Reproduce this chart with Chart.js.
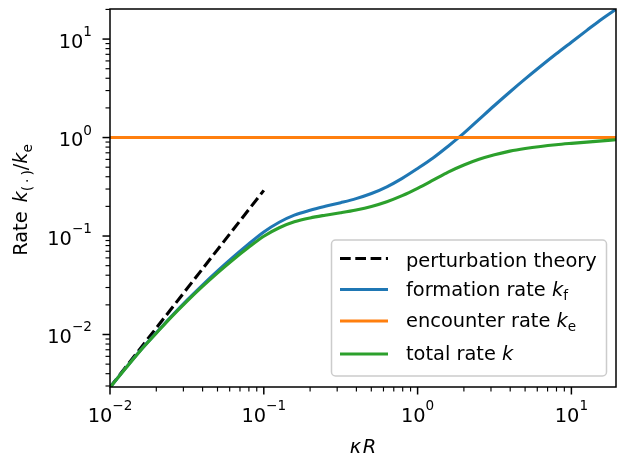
<!DOCTYPE html>
<html>
<head>
<meta charset="utf-8">
<script src="https://cdn.jsdelivr.net/npm/chart.js@4.4.0/dist/chart.umd.min.js"></script>
<style>
    html, body { margin: 0; padding: 0; background: #fff; }
    canvas { display: block; }
</style>
</head>
<body>
<canvas id="myChart" width="618" height="456"></canvas>
<script>
// values
const kappaR = [0.01, 0.0126, 0.0158, 0.02, 0.0251, 0.0316, 0.0398, 0.0501, 0.0631, 0.0794,
    0.1, 0.126, 0.158, 0.2, 0.251, 0.316, 0.398, 0.501, 0.631, 0.794,
    1, 1.26, 1.58, 2, 2.51, 3.16, 3.98, 5.01, 6.31, 7.94,
    10, 12.6, 15.8, 19.5];
const formationRate = [0.0029, 0.00453, 0.00693, 0.0104, 0.0153, 0.0222, 0.0316, 0.0442, 0.0609, 0.0826,
    0.110, 0.138, 0.1628, 0.1827, 0.2003, 0.2182, 0.2398, 0.2703, 0.3162, 0.3854,
    0.4852, 0.620, 0.817, 1.108, 1.529, 2.117, 2.904, 3.939, 5.291, 7.04,
    9.29, 12.25, 16.0, 20.1];
const totalRate = [0.0029, 0.00451, 0.00689, 0.0103, 0.0151, 0.0217, 0.0306, 0.0423, 0.0574, 0.0763,
    0.0995, 0.1213, 0.1393, 0.1527, 0.1628, 0.1724, 0.1840, 0.1999, 0.2233, 0.2574,
    0.3053, 0.3687, 0.4454, 0.5257, 0.6008, 0.6679, 0.7278, 0.7741, 0.8124, 0.8449,
    0.8726, 0.899, 0.925, 0.949];
const encounterX = [0.01, 19.5];
const encounterRate = [1, 1];
const perturbX = [0.01, 0.1];
const perturbRate = [0.00291, 0.291];

const xRange = [0.01, 19.5];
const yRange = [0.00293, 20.2];
const majorExp = [-2, -1, 0, 1];

const FONT = 'DejaVu Sans';
const SIZE = 19.4;
const SUB = 13.6;
const LW = 3.1;

const points = (xs, ys) => xs.map((x, i) => ({ x, y: ys[i] }));

// parts: {t, italic, size, dy} or {gap}
function drawRich(ctx, parts, x, y, align) {
    const widths = parts.map(p => {
        if (p.gap) return p.gap;
        ctx.font = `${p.italic ? 'italic ' : ''}${p.size || SIZE}px "${FONT}"`;
        return ctx.measureText(p.t).width;
    });
    const total = widths.reduce((a, b) => a + b, 0);
    let cx = align === 'center' ? x - total / 2 : align === 'right' ? x - total : x;
    ctx.textAlign = 'left';
    ctx.textBaseline = 'alphabetic';
    parts.forEach((p, i) => {
        if (!p.gap) {
            ctx.font = `${p.italic ? 'italic ' : ''}${p.size || SIZE}px "${FONT}"`;
            ctx.fillText(p.t, cx, y + (p.dy || 0));
        }
        cx += widths[i];
    });
}

const powLabel = e => [{ t: '10' }, { t: e < 0 ? '\u2212' + (-e) : String(e), size: SUB, dy: -11.5 }];

const legendItems = [
    { color: '#000', dash: [10.7, 4.6], parts: [{ t: 'perturbation theory' }], ly: 258.5, by: 266.5 },
    { color: '#1f77b4', parts: [{ t: 'formation rate ' }, { t: 'k', italic: true }, { t: 'f', size: SUB, dy: 4 }], ly: 289.5, by: 295.5 },
    { color: '#ff7f0e', parts: [{ t: 'encounter rate ' }, { t: 'k', italic: true }, { t: 'e', size: SUB, dy: 4 }], ly: 321, by: 327 },
    { color: '#2ca02c', parts: [{ t: 'total rate ' }, { t: 'k', italic: true }], ly: 354, by: 360 },
];

const axesPlugin = {
    id: 'axesPlugin',
    afterDraw(chart) {
        const ctx = chart.ctx;
        const { left, right, top, bottom } = chart.chartArea;
        const xs = chart.scales.x;
        const ys = chart.scales.y;
        ctx.save();
        ctx.fillStyle = '#000';
        ctx.strokeStyle = '#000';

        // ticks
        const tick = (x1, y1, x2, y2, w) => {
            ctx.lineWidth = w;
            ctx.beginPath();
            ctx.moveTo(x1, y1);
            ctx.lineTo(x2, y2);
            ctx.stroke();
        };
        for (let d = -3; d <= 1; d++) {
            for (let m = 1; m <= 9; m++) {
                const v = m * Math.pow(10, d);
                const major = m === 1;
                const len = major ? 7.5 : 4.5;
                const w = major ? 1.5 : 1.15;
                if (v >= xRange[0] && v <= xRange[1]) {
                    const px = xs.getPixelForValue(v);
                    tick(px, bottom, px, bottom + len, w);
                }
                if (v >= yRange[0] && v <= yRange[1]) {
                    const py = ys.getPixelForValue(v);
                    tick(left, py, left - len, py, w);
                }
            }
        }

        // spines
        ctx.lineWidth = 1.5;
        ctx.strokeRect(left, top, right - left, bottom - top);

        // tick labels
        majorExp.forEach(e => {
            const v = Math.pow(10, e);
            const px = xs.getPixelForValue(v);
            drawRich(ctx, powLabel(e), px, 421.5, 'center');
            const py = ys.getPixelForValue(v);
            drawRich(ctx, powLabel(e), 92, py + 8.5, 'right');
        });

        // axis titles
        drawRich(ctx, [{ t: '\u03ba', italic: true }, { gap: 1.5 }, { t: 'R', italic: true }], (left + right) / 2, 453, 'center');
        ctx.save();
        ctx.translate(27, 200);
        ctx.rotate(-Math.PI / 2);
        drawRich(ctx, [
            { t: 'Rate' }, { gap: 9 }, { t: 'k', italic: true },
            { t: '(', size: SUB, dy: 4.5 }, { gap: 3 }, { t: '\u00b7', size: SUB, dy: 4.5 }, { gap: 3 }, { t: ')', size: SUB, dy: 4.5 },
            { t: '/' }, { t: 'k', italic: true }, { t: 'e', size: SUB, dy: 4.5 },
        ], 0, 0, 'center');
        ctx.restore();

        // legend
        ctx.beginPath();
        ctx.roundRect(331.5, 240, 275, 136, 4);
        ctx.fillStyle = 'rgba(255,255,255,0.8)';
        ctx.fill();
        ctx.lineWidth = 1.5;
        ctx.strokeStyle = '#cccccc';
        ctx.stroke();
        legendItems.forEach(item => {
            ctx.strokeStyle = item.color;
            ctx.lineWidth = LW;
            ctx.setLineDash(item.dash || []);
            ctx.beginPath();
            ctx.moveTo(340, item.ly);
            ctx.lineTo(388, item.ly);
            ctx.stroke();
            ctx.setLineDash([]);
            ctx.fillStyle = '#000';
            drawRich(ctx, item.parts, 406, item.by, 'left');
        });
        ctx.restore();
    }
};

const ctx = document.getElementById('myChart').getContext('2d');
new Chart(ctx, {
    type: 'line',
    data: {
        datasets: [
            {
                label: 'perturbation theory',
                data: points(perturbX, perturbRate),
                borderColor: '#000',
                borderWidth: LW,
                borderDash: [10.7, 4.6],
                order: 3,
            },
            {
                label: 'formation rate',
                data: points(kappaR, formationRate),
                borderColor: '#1f77b4',
                borderWidth: LW,
                cubicInterpolationMode: 'monotone',
                order: 2,
            },
            {
                label: 'encounter rate',
                data: points(encounterX, encounterRate),
                borderColor: '#ff7f0e',
                borderWidth: LW,
                order: 1,
            },
            {
                label: 'total rate',
                data: points(kappaR, totalRate),
                borderColor: '#2ca02c',
                borderWidth: LW,
                cubicInterpolationMode: 'monotone',
                order: 0,
            },
        ]
    },
    options: {
        responsive: false,
        animation: false,
        devicePixelRatio: 1,
        layout: { padding: { left: 110, right: 2, top: 9, bottom: 69 } },
        elements: { point: { radius: 0 } },
        plugins: { legend: { display: false }, tooltip: { enabled: false } },
        scales: {
            x: { type: 'logarithmic', min: xRange[0], max: xRange[1], display: false },
            y: { type: 'logarithmic', min: yRange[0], max: yRange[1], display: false },
        },
    },
    plugins: [axesPlugin],
});
</script>
</body>
</html>
